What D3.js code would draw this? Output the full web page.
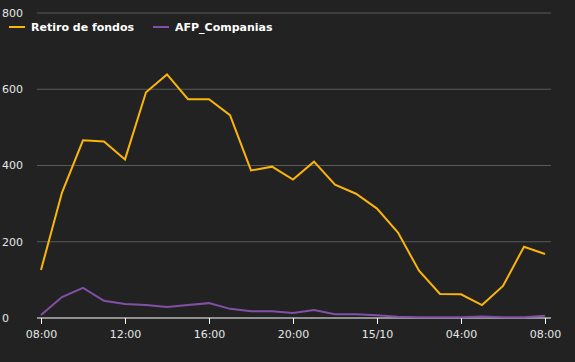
<!DOCTYPE html>
<html>
<head>
<meta charset="utf-8">
<script src="https://cdn.jsdelivr.net/npm/d3@7"></script>
<style>
  body { margin: 0; background: #222222; }
  svg { display: block; font-family: "DejaVu Sans", sans-serif; }
</style>
</head>
<body>
<div id="chart"></div>
<script>
// hourly points, 14/10 08:00 -> 15/10 08:00
var hours = d3.range(25).map(function(i) { return new Date(2020, 9, 14, 8 + i); });
var retiro = [126, 329, 466, 463, 416, 592, 639, 574, 574, 532, 387, 397, 363, 410, 350, 326, 287, 224, 124, 63, 62, 34, 84, 187, 168];
var afp = [8, 55, 79, 45, 37, 34, 29, 34, 39, 24, 18, 18, 13, 21, 10, 10, 7, 3, 2, 2, 2, 4, 2, 2, 6];
var seriesNames = ["Retiro de fondos", "AFP_Companias"];
var seriesColors = ["#fbb40b", "#8250a6"];
var yTicks = [0, 200, 400, 600, 800];

var width = 575, height = 362;
var margin = { top: 13, right: 24, bottom: 44, left: 37 };

var svg = d3.select("#chart").append("svg")
    .attr("width", width)
    .attr("height", height);

var x = d3.scaleTime()
    .domain([hours[0], hours[hours.length - 1]])
    .range([margin.left + 4, width - margin.right - 6]);

var y = d3.scaleLinear()
    .domain([0, 800])
    .range([height - margin.bottom, margin.top]);

// gridlines + y labels
var grid = svg.append("g");
grid.selectAll("line")
    .data(yTicks.filter(function(d) { return d > 0; }))
    .enter().append("line")
    .attr("x1", margin.left)
    .attr("x2", width - margin.right)
    .attr("y1", function(d) { return y(d); })
    .attr("y2", function(d) { return y(d); })
    .attr("stroke", "#5a5a5a")
    .attr("stroke-width", 1);

grid.selectAll("text")
    .data(yTicks)
    .enter().append("text")
    .attr("x", 2)
    .attr("y", function(d) { return y(d); })
    .attr("dy", "0.35em")
    .attr("fill", "#e6e6e6")
    .style("font-size", "11px")
    .text(function(d) { return d; });

// x axis
var xAxis = d3.axisBottom(x)
    .ticks(d3.timeHour.every(4))
    .tickSize(6)
    .tickFormat(function(d) { return d.getHours() === 0 ? d3.timeFormat("%d/%m")(d) : d3.timeFormat("%H:%M")(d); });

var xg = svg.append("g")
    .attr("transform", "translate(0," + y(0) + ")")
    .call(xAxis);
xg.select(".domain")
    .attr("d", "M" + margin.left + ",0H" + (width - margin.right))
    .attr("stroke", "#ffffff");
xg.selectAll(".tick line").attr("stroke", "#ffffff");
xg.selectAll(".tick text")
    .attr("fill", "#e6e6e6")
    .attr("dy", "1.0em")
    .style("font-size", "11px")
    .style("font-family", "DejaVu Sans, sans-serif");

// lines
var line = d3.line()
    .x(function(d, i) { return x(hours[i]); })
    .y(function(d) { return y(d); });

[afp, retiro].forEach(function(vals) {
    var idx = vals === retiro ? 0 : 1;
    svg.append("path")
        .datum(vals)
        .attr("fill", "none")
        .attr("stroke", seriesColors[idx])
        .attr("stroke-width", 2)
        .attr("stroke-linejoin", "miter")
        .attr("d", line);
});

// legend
var legend = svg.append("g").attr("transform", "translate(9,27)");
var legendX = [0, 144];
seriesNames.forEach(function(name, i) {
    var g = legend.append("g").attr("transform", "translate(" + legendX[i] + ",0)");
    g.append("line")
        .attr("x1", 0).attr("x2", 16)
        .attr("stroke", seriesColors[i])
        .attr("stroke-width", 2);
    g.append("text")
        .attr("x", 22)
        .attr("dy", "0.35em")
        .attr("fill", "#ffffff")
        .style("font-size", "11px")
        .style("font-weight", "bold")
        .text(name);
});
</script>
</body>
</html>
